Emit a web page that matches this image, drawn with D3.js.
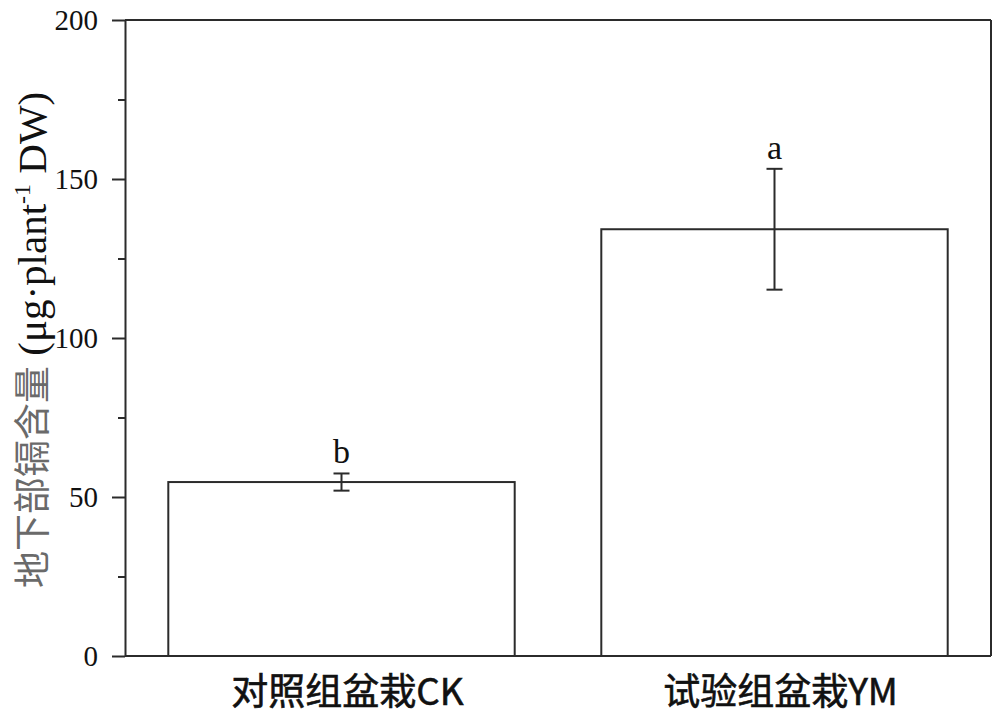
<!DOCTYPE html>
<html>
<head>
<meta charset="utf-8">
<script src="https://cdn.jsdelivr.net/npm/d3@7"></script>
<style>
  html, body { margin: 0; padding: 0; background: #fff; }
  svg { display: block; }
</style>
</head>
<body>
<svg id="chart" width="1000" height="725"></svg>
<script>
// ---- data ----
const categories = ["对照组盆栽CK", "试验组盆栽YM"];
const means = [54.7, 134.2];
const errors = [2.7, 19.0];
const letters = ["b", "a"];
const yTicks = [0, 50, 100, 150, 200];
const yMinorTicks = [25, 75, 125, 175];
const yLabelCN = "地下部镉含量";
const yLabelUnit = ["(μg·plant", "-1", " DW)"];

// ---- layout ----
const mLeft = 125, mRight = 991, mTop = 20, mBottom = 656;
const svg = d3.select("#chart");

const x = d3.scaleBand().domain(categories).range([mLeft, mRight])
  .paddingInner(0.2).paddingOuter(0.1);
const y = d3.scaleLinear().domain([0, 200]).range([mBottom, mTop]);

const stroke = "#2b2b2b";

// bars
svg.selectAll("rect.bar").data(means).join("rect")
  .attr("class", "bar")
  .attr("x", (d, i) => x(categories[i]))
  .attr("y", d => y(d))
  .attr("width", x.bandwidth())
  .attr("height", d => y(0) - y(d))
  .attr("fill", "#fff")
  .attr("stroke", stroke)
  .attr("stroke-width", 2);

// error bars
const cap = 8;
const eg = svg.append("g").attr("stroke", stroke).attr("stroke-width", 2);
means.forEach((m, i) => {
  const cx = x(categories[i]) + x.bandwidth() / 2;
  eg.append("line").attr("x1", cx).attr("x2", cx)
    .attr("y1", y(m + errors[i])).attr("y2", y(m - errors[i]));
  eg.append("line").attr("x1", cx - cap).attr("x2", cx + cap)
    .attr("y1", y(m + errors[i])).attr("y2", y(m + errors[i]));
  eg.append("line").attr("x1", cx - cap).attr("x2", cx + cap)
    .attr("y1", y(m - errors[i])).attr("y2", y(m - errors[i]));
});

// significance letters
svg.selectAll("text.sig").data(letters).join("text")
  .attr("class", "sig")
  .attr("x", (d, i) => x(categories[i]) + x.bandwidth() / 2)
  .attr("y", (d, i) => y(means[i] + errors[i]) - 10)
  .attr("text-anchor", "middle")
  .attr("font-family", "Liberation Serif, serif")
  .attr("font-size", 34)
  .attr("fill", "#111")
  .text(d => d);

// frame (top and right)
svg.append("line").attr("x1", mLeft).attr("x2", mRight).attr("y1", mTop).attr("y2", mTop)
  .attr("stroke", stroke).attr("stroke-width", 2);
svg.append("line").attr("x1", mRight).attr("x2", mRight).attr("y1", mTop).attr("y2", mBottom)
  .attr("stroke", stroke).attr("stroke-width", 2);

// x axis
const xAxis = svg.append("g").attr("transform", `translate(0,${mBottom})`)
  .call(d3.axisBottom(x).tickSize(0).tickPadding(0));
xAxis.select(".domain").attr("stroke", stroke).attr("stroke-width", 2)
  .attr("d", `M${mLeft},0H${mRight}`);
xAxis.selectAll(".tick text")
  .attr("y", 49)
  .attr("dy", 0)
  .attr("font-family", "Noto Sans CJK SC, sans-serif")
  .attr("font-size", 37)
  .attr("font-weight", 400)
  .attr("fill", "#111")
  .attr("stroke", "#111")
  .attr("stroke-width", 0.6)
  .attr("dx", 6);

// y axis major
const yAxis = svg.append("g").attr("transform", `translate(${mLeft},0)`)
  .call(d3.axisLeft(y).tickValues(yTicks).tickSize(13).tickPadding(14).tickSizeOuter(0));
yAxis.select(".domain").attr("stroke", stroke).attr("stroke-width", 2);
yAxis.selectAll(".tick line").attr("stroke", stroke).attr("stroke-width", 2);
yAxis.selectAll(".tick text")
  .attr("font-family", "Liberation Serif, serif")
  .attr("font-size", 29)
  .attr("fill", "#111");

// y axis minor
const yMinor = svg.append("g").attr("transform", `translate(${mLeft},0)`)
  .call(d3.axisLeft(y).tickValues(yMinorTicks).tickSize(7).tickFormat(""));
yMinor.select(".domain").remove();
yMinor.selectAll(".tick line").attr("stroke", stroke).attr("stroke-width", 2);

// y label
const yl = svg.append("text")
  .attr("transform", "translate(46,588) rotate(-90)")
  .attr("text-anchor", "start");
yl.append("tspan")
  .attr("font-family", "Noto Sans CJK SC, sans-serif")
  .attr("font-size", 37)
  .attr("fill", "#6a6a6a")
  .text(yLabelCN);
yl.append("tspan")
  .attr("font-family", "Liberation Serif, serif")
  .attr("font-size", 41)
  .attr("fill", "#111")
  .text(" " + yLabelUnit[0]);
yl.append("tspan")
  .attr("font-family", "Liberation Serif, serif")
  .attr("font-size", 24)
  .attr("dy", -16)
  .attr("fill", "#111")
  .text(yLabelUnit[1]);
yl.append("tspan")
  .attr("font-family", "Liberation Serif, serif")
  .attr("font-size", 41)
  .attr("dy", 16)
  .attr("fill", "#111")
  .text(yLabelUnit[2]);
</script>
</body>
</html>
